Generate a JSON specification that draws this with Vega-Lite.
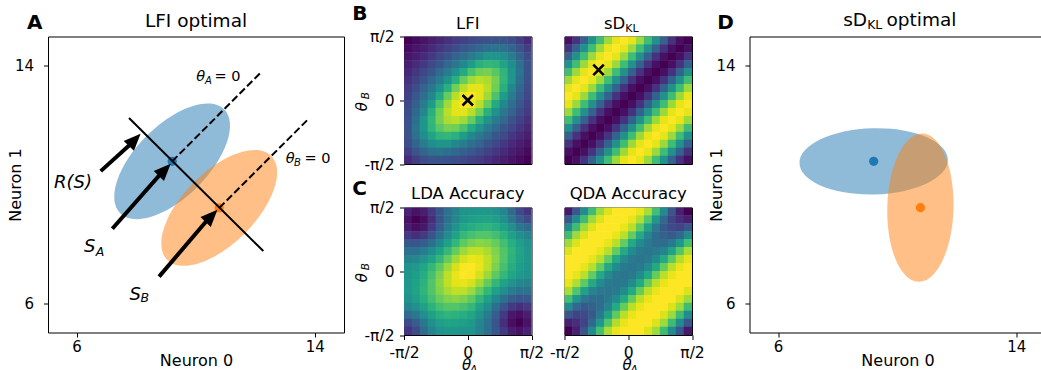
{
"$schema":"https://vega.github.io/schema/vega-lite/v6.json",
"background":"white",
"padding":{"left":6,"top":2.5,"right":0,"bottom":0},
"config":{
 "font":"DejaVu Sans",
 "view":{"stroke":"black","strokeWidth":1},
 "axis":{"domain":false,"grid":false,"tickColor":"black","tickWidth":1,"tickSize":4.5,"labelColor":"black","titleColor":"black","labelFont":"DejaVu Sans","titleFont":"DejaVu Sans","labelFontSize":15,"titleFontSize":16,"titleFontWeight":"normal","labelFlush":false,"labelOverlap":false,"labelBound":false},
 "text":{"font":"DejaVu Sans","color":"black"}
},
"datasets":{
"lfi":[
{"i":0,"j":15,"v":0.045},{"i":1,"j":15,"v":0.07},{"i":2,"j":15,"v":0.093},{"i":3,"j":15,"v":0.119},{"i":4,"j":15,"v":0.147},{"i":5,"j":15,"v":0.175},{"i":6,"j":15,"v":0.205},{"i":7,"j":15,"v":0.225},{"i":8,"j":15,"v":0.252},{"i":9,"j":15,"v":0.264},{"i":10,"j":15,"v":0.276},{"i":11,"j":15,"v":0.286},{"i":12,"j":15,"v":0.284},{"i":13,"j":15,"v":0.261},{"i":14,"j":15,"v":0.215},{"i":15,"j":15,"v":0.16},
{"i":0,"j":14,"v":0.07},{"i":1,"j":14,"v":0.095},{"i":2,"j":14,"v":0.124},{"i":3,"j":14,"v":0.157},{"i":4,"j":14,"v":0.191},{"i":5,"j":14,"v":0.23},{"i":6,"j":14,"v":0.263},{"i":7,"j":14,"v":0.303},{"i":8,"j":14,"v":0.33},{"i":9,"j":14,"v":0.36},{"i":10,"j":14,"v":0.39},{"i":11,"j":14,"v":0.411},{"i":12,"j":14,"v":0.396},{"i":13,"j":14,"v":0.351},{"i":14,"j":14,"v":0.29},{"i":15,"j":14,"v":0.215},
{"i":0,"j":13,"v":0.093},{"i":1,"j":13,"v":0.124},{"i":2,"j":13,"v":0.16},{"i":3,"j":13,"v":0.199},{"i":4,"j":13,"v":0.245},{"i":5,"j":13,"v":0.287},{"i":6,"j":13,"v":0.34},{"i":7,"j":13,"v":0.385},{"i":8,"j":13,"v":0.435},{"i":9,"j":13,"v":0.488},{"i":10,"j":13,"v":0.537},{"i":11,"j":13,"v":0.54},{"i":12,"j":13,"v":0.507},{"i":13,"j":13,"v":0.44},{"i":14,"j":13,"v":0.351},{"i":15,"j":13,"v":0.261},
{"i":0,"j":12,"v":0.119},{"i":1,"j":12,"v":0.157},{"i":2,"j":12,"v":0.199},{"i":3,"j":12,"v":0.25},{"i":4,"j":12,"v":0.299},{"i":5,"j":12,"v":0.363},{"i":6,"j":12,"v":0.42},{"i":7,"j":12,"v":0.488},{"i":8,"j":12,"v":0.569},{"i":9,"j":12,"v":0.648},{"i":10,"j":12,"v":0.675},{"i":11,"j":12,"v":0.663},{"i":12,"j":12,"v":0.6},{"i":13,"j":12,"v":0.507},{"i":14,"j":12,"v":0.396},{"i":15,"j":12,"v":0.284},
{"i":0,"j":11,"v":0.147},{"i":1,"j":11,"v":0.191},{"i":2,"j":11,"v":0.245},{"i":3,"j":11,"v":0.299},{"i":4,"j":11,"v":0.37},{"i":5,"j":11,"v":0.438},{"i":6,"j":11,"v":0.519},{"i":7,"j":11,"v":0.621},{"i":8,"j":11,"v":0.727},{"i":9,"j":11,"v":0.788},{"i":10,"j":11,"v":0.8},{"i":11,"j":11,"v":0.75},{"i":12,"j":11,"v":0.663},{"i":13,"j":11,"v":0.54},{"i":14,"j":11,"v":0.411},{"i":15,"j":11,"v":0.286},
{"i":0,"j":10,"v":0.175},{"i":1,"j":10,"v":0.23},{"i":2,"j":10,"v":0.287},{"i":3,"j":10,"v":0.363},{"i":4,"j":10,"v":0.438},{"i":5,"j":10,"v":0.53},{"i":6,"j":10,"v":0.647},{"i":7,"j":10,"v":0.774},{"i":8,"j":10,"v":0.86},{"i":9,"j":10,"v":0.897},{"i":10,"j":10,"v":0.875},{"i":11,"j":10,"v":0.8},{"i":12,"j":10,"v":0.675},{"i":13,"j":10,"v":0.537},{"i":14,"j":10,"v":0.39},{"i":15,"j":10,"v":0.276},
{"i":0,"j":9,"v":0.205},{"i":1,"j":9,"v":0.263},{"i":2,"j":9,"v":0.34},{"i":3,"j":9,"v":0.42},{"i":4,"j":9,"v":0.519},{"i":5,"j":9,"v":0.647},{"i":6,"j":9,"v":0.79},{"i":7,"j":9,"v":0.896},{"i":8,"j":9,"v":0.956},{"i":9,"j":9,"v":0.955},{"i":10,"j":9,"v":0.897},{"i":11,"j":9,"v":0.788},{"i":12,"j":9,"v":0.648},{"i":13,"j":9,"v":0.488},{"i":14,"j":9,"v":0.36},{"i":15,"j":9,"v":0.264},
{"i":0,"j":8,"v":0.225},{"i":1,"j":8,"v":0.303},{"i":2,"j":8,"v":0.385},{"i":3,"j":8,"v":0.488},{"i":4,"j":8,"v":0.621},{"i":5,"j":8,"v":0.774},{"i":6,"j":8,"v":0.896},{"i":7,"j":8,"v":0.975},{"i":8,"j":8,"v":0.995},{"i":9,"j":8,"v":0.956},{"i":10,"j":8,"v":0.86},{"i":11,"j":8,"v":0.727},{"i":12,"j":8,"v":0.569},{"i":13,"j":8,"v":0.435},{"i":14,"j":8,"v":0.33},{"i":15,"j":8,"v":0.252},
{"i":0,"j":7,"v":0.252},{"i":1,"j":7,"v":0.33},{"i":2,"j":7,"v":0.435},{"i":3,"j":7,"v":0.569},{"i":4,"j":7,"v":0.727},{"i":5,"j":7,"v":0.86},{"i":6,"j":7,"v":0.956},{"i":7,"j":7,"v":0.995},{"i":8,"j":7,"v":0.975},{"i":9,"j":7,"v":0.896},{"i":10,"j":7,"v":0.774},{"i":11,"j":7,"v":0.621},{"i":12,"j":7,"v":0.488},{"i":13,"j":7,"v":0.385},{"i":14,"j":7,"v":0.303},{"i":15,"j":7,"v":0.225},
{"i":0,"j":6,"v":0.264},{"i":1,"j":6,"v":0.36},{"i":2,"j":6,"v":0.488},{"i":3,"j":6,"v":0.648},{"i":4,"j":6,"v":0.788},{"i":5,"j":6,"v":0.897},{"i":6,"j":6,"v":0.955},{"i":7,"j":6,"v":0.956},{"i":8,"j":6,"v":0.896},{"i":9,"j":6,"v":0.79},{"i":10,"j":6,"v":0.647},{"i":11,"j":6,"v":0.519},{"i":12,"j":6,"v":0.42},{"i":13,"j":6,"v":0.34},{"i":14,"j":6,"v":0.263},{"i":15,"j":6,"v":0.205},
{"i":0,"j":5,"v":0.276},{"i":1,"j":5,"v":0.39},{"i":2,"j":5,"v":0.537},{"i":3,"j":5,"v":0.675},{"i":4,"j":5,"v":0.8},{"i":5,"j":5,"v":0.875},{"i":6,"j":5,"v":0.897},{"i":7,"j":5,"v":0.86},{"i":8,"j":5,"v":0.774},{"i":9,"j":5,"v":0.647},{"i":10,"j":5,"v":0.53},{"i":11,"j":5,"v":0.438},{"i":12,"j":5,"v":0.363},{"i":13,"j":5,"v":0.287},{"i":14,"j":5,"v":0.23},{"i":15,"j":5,"v":0.175},
{"i":0,"j":4,"v":0.286},{"i":1,"j":4,"v":0.411},{"i":2,"j":4,"v":0.54},{"i":3,"j":4,"v":0.663},{"i":4,"j":4,"v":0.75},{"i":5,"j":4,"v":0.8},{"i":6,"j":4,"v":0.788},{"i":7,"j":4,"v":0.727},{"i":8,"j":4,"v":0.621},{"i":9,"j":4,"v":0.519},{"i":10,"j":4,"v":0.438},{"i":11,"j":4,"v":0.37},{"i":12,"j":4,"v":0.299},{"i":13,"j":4,"v":0.245},{"i":14,"j":4,"v":0.191},{"i":15,"j":4,"v":0.147},
{"i":0,"j":3,"v":0.284},{"i":1,"j":3,"v":0.396},{"i":2,"j":3,"v":0.507},{"i":3,"j":3,"v":0.6},{"i":4,"j":3,"v":0.663},{"i":5,"j":3,"v":0.675},{"i":6,"j":3,"v":0.648},{"i":7,"j":3,"v":0.569},{"i":8,"j":3,"v":0.488},{"i":9,"j":3,"v":0.42},{"i":10,"j":3,"v":0.363},{"i":11,"j":3,"v":0.299},{"i":12,"j":3,"v":0.25},{"i":13,"j":3,"v":0.199},{"i":14,"j":3,"v":0.157},{"i":15,"j":3,"v":0.119},
{"i":0,"j":2,"v":0.261},{"i":1,"j":2,"v":0.351},{"i":2,"j":2,"v":0.44},{"i":3,"j":2,"v":0.507},{"i":4,"j":2,"v":0.54},{"i":5,"j":2,"v":0.537},{"i":6,"j":2,"v":0.488},{"i":7,"j":2,"v":0.435},{"i":8,"j":2,"v":0.385},{"i":9,"j":2,"v":0.34},{"i":10,"j":2,"v":0.287},{"i":11,"j":2,"v":0.245},{"i":12,"j":2,"v":0.199},{"i":13,"j":2,"v":0.16},{"i":14,"j":2,"v":0.124},{"i":15,"j":2,"v":0.093},
{"i":0,"j":1,"v":0.215},{"i":1,"j":1,"v":0.29},{"i":2,"j":1,"v":0.351},{"i":3,"j":1,"v":0.396},{"i":4,"j":1,"v":0.411},{"i":5,"j":1,"v":0.39},{"i":6,"j":1,"v":0.36},{"i":7,"j":1,"v":0.33},{"i":8,"j":1,"v":0.303},{"i":9,"j":1,"v":0.263},{"i":10,"j":1,"v":0.23},{"i":11,"j":1,"v":0.191},{"i":12,"j":1,"v":0.157},{"i":13,"j":1,"v":0.124},{"i":14,"j":1,"v":0.095},{"i":15,"j":1,"v":0.07},
{"i":0,"j":0,"v":0.16},{"i":1,"j":0,"v":0.215},{"i":2,"j":0,"v":0.261},{"i":3,"j":0,"v":0.284},{"i":4,"j":0,"v":0.286},{"i":5,"j":0,"v":0.276},{"i":6,"j":0,"v":0.264},{"i":7,"j":0,"v":0.252},{"i":8,"j":0,"v":0.225},{"i":9,"j":0,"v":0.205},{"i":10,"j":0,"v":0.175},{"i":11,"j":0,"v":0.147},{"i":12,"j":0,"v":0.119},{"i":13,"j":0,"v":0.093},{"i":14,"j":0,"v":0.07},{"i":15,"j":0,"v":0.045}
],
"skl":[
{"i":0,"j":15,"v":0.038},{"i":1,"j":15,"v":0.146},{"i":2,"j":15,"v":0.309},{"i":3,"j":15,"v":0.5},{"i":4,"j":15,"v":0.691},{"i":5,"j":15,"v":0.854},{"i":6,"j":15,"v":0.962},{"i":7,"j":15,"v":1},{"i":8,"j":15,"v":0.962},{"i":9,"j":15,"v":0.854},{"i":10,"j":15,"v":0.691},{"i":11,"j":15,"v":0.5},{"i":12,"j":15,"v":0.309},{"i":13,"j":15,"v":0.146},{"i":14,"j":15,"v":0.038},{"i":15,"j":15,"v":0},
{"i":0,"j":14,"v":0.146},{"i":1,"j":14,"v":0.309},{"i":2,"j":14,"v":0.5},{"i":3,"j":14,"v":0.691},{"i":4,"j":14,"v":0.854},{"i":5,"j":14,"v":0.962},{"i":6,"j":14,"v":1},{"i":7,"j":14,"v":0.962},{"i":8,"j":14,"v":0.854},{"i":9,"j":14,"v":0.691},{"i":10,"j":14,"v":0.5},{"i":11,"j":14,"v":0.309},{"i":12,"j":14,"v":0.146},{"i":13,"j":14,"v":0.038},{"i":14,"j":14,"v":0},{"i":15,"j":14,"v":0.038},
{"i":0,"j":13,"v":0.309},{"i":1,"j":13,"v":0.5},{"i":2,"j":13,"v":0.691},{"i":3,"j":13,"v":0.854},{"i":4,"j":13,"v":0.962},{"i":5,"j":13,"v":1},{"i":6,"j":13,"v":0.962},{"i":7,"j":13,"v":0.854},{"i":8,"j":13,"v":0.691},{"i":9,"j":13,"v":0.5},{"i":10,"j":13,"v":0.309},{"i":11,"j":13,"v":0.146},{"i":12,"j":13,"v":0.038},{"i":13,"j":13,"v":0},{"i":14,"j":13,"v":0.038},{"i":15,"j":13,"v":0.146},
{"i":0,"j":12,"v":0.5},{"i":1,"j":12,"v":0.691},{"i":2,"j":12,"v":0.854},{"i":3,"j":12,"v":0.962},{"i":4,"j":12,"v":1},{"i":5,"j":12,"v":0.962},{"i":6,"j":12,"v":0.854},{"i":7,"j":12,"v":0.691},{"i":8,"j":12,"v":0.5},{"i":9,"j":12,"v":0.309},{"i":10,"j":12,"v":0.146},{"i":11,"j":12,"v":0.038},{"i":12,"j":12,"v":0},{"i":13,"j":12,"v":0.038},{"i":14,"j":12,"v":0.146},{"i":15,"j":12,"v":0.309},
{"i":0,"j":11,"v":0.691},{"i":1,"j":11,"v":0.854},{"i":2,"j":11,"v":0.962},{"i":3,"j":11,"v":1},{"i":4,"j":11,"v":0.962},{"i":5,"j":11,"v":0.854},{"i":6,"j":11,"v":0.691},{"i":7,"j":11,"v":0.5},{"i":8,"j":11,"v":0.309},{"i":9,"j":11,"v":0.146},{"i":10,"j":11,"v":0.038},{"i":11,"j":11,"v":0},{"i":12,"j":11,"v":0.038},{"i":13,"j":11,"v":0.146},{"i":14,"j":11,"v":0.309},{"i":15,"j":11,"v":0.5},
{"i":0,"j":10,"v":0.854},{"i":1,"j":10,"v":0.962},{"i":2,"j":10,"v":1},{"i":3,"j":10,"v":0.962},{"i":4,"j":10,"v":0.854},{"i":5,"j":10,"v":0.691},{"i":6,"j":10,"v":0.5},{"i":7,"j":10,"v":0.309},{"i":8,"j":10,"v":0.146},{"i":9,"j":10,"v":0.038},{"i":10,"j":10,"v":0},{"i":11,"j":10,"v":0.038},{"i":12,"j":10,"v":0.146},{"i":13,"j":10,"v":0.309},{"i":14,"j":10,"v":0.5},{"i":15,"j":10,"v":0.691},
{"i":0,"j":9,"v":0.962},{"i":1,"j":9,"v":1},{"i":2,"j":9,"v":0.962},{"i":3,"j":9,"v":0.854},{"i":4,"j":9,"v":0.691},{"i":5,"j":9,"v":0.5},{"i":6,"j":9,"v":0.309},{"i":7,"j":9,"v":0.146},{"i":8,"j":9,"v":0.038},{"i":9,"j":9,"v":0},{"i":10,"j":9,"v":0.038},{"i":11,"j":9,"v":0.146},{"i":12,"j":9,"v":0.309},{"i":13,"j":9,"v":0.5},{"i":14,"j":9,"v":0.691},{"i":15,"j":9,"v":0.854},
{"i":0,"j":8,"v":1},{"i":1,"j":8,"v":0.962},{"i":2,"j":8,"v":0.854},{"i":3,"j":8,"v":0.691},{"i":4,"j":8,"v":0.5},{"i":5,"j":8,"v":0.309},{"i":6,"j":8,"v":0.146},{"i":7,"j":8,"v":0.038},{"i":8,"j":8,"v":0},{"i":9,"j":8,"v":0.038},{"i":10,"j":8,"v":0.146},{"i":11,"j":8,"v":0.309},{"i":12,"j":8,"v":0.5},{"i":13,"j":8,"v":0.691},{"i":14,"j":8,"v":0.854},{"i":15,"j":8,"v":0.962},
{"i":0,"j":7,"v":0.962},{"i":1,"j":7,"v":0.854},{"i":2,"j":7,"v":0.691},{"i":3,"j":7,"v":0.5},{"i":4,"j":7,"v":0.309},{"i":5,"j":7,"v":0.146},{"i":6,"j":7,"v":0.038},{"i":7,"j":7,"v":0},{"i":8,"j":7,"v":0.038},{"i":9,"j":7,"v":0.146},{"i":10,"j":7,"v":0.309},{"i":11,"j":7,"v":0.5},{"i":12,"j":7,"v":0.691},{"i":13,"j":7,"v":0.854},{"i":14,"j":7,"v":0.962},{"i":15,"j":7,"v":1},
{"i":0,"j":6,"v":0.854},{"i":1,"j":6,"v":0.691},{"i":2,"j":6,"v":0.5},{"i":3,"j":6,"v":0.309},{"i":4,"j":6,"v":0.146},{"i":5,"j":6,"v":0.038},{"i":6,"j":6,"v":0},{"i":7,"j":6,"v":0.038},{"i":8,"j":6,"v":0.146},{"i":9,"j":6,"v":0.309},{"i":10,"j":6,"v":0.5},{"i":11,"j":6,"v":0.691},{"i":12,"j":6,"v":0.854},{"i":13,"j":6,"v":0.962},{"i":14,"j":6,"v":1},{"i":15,"j":6,"v":0.962},
{"i":0,"j":5,"v":0.691},{"i":1,"j":5,"v":0.5},{"i":2,"j":5,"v":0.309},{"i":3,"j":5,"v":0.146},{"i":4,"j":5,"v":0.038},{"i":5,"j":5,"v":0},{"i":6,"j":5,"v":0.038},{"i":7,"j":5,"v":0.146},{"i":8,"j":5,"v":0.309},{"i":9,"j":5,"v":0.5},{"i":10,"j":5,"v":0.691},{"i":11,"j":5,"v":0.854},{"i":12,"j":5,"v":0.962},{"i":13,"j":5,"v":1},{"i":14,"j":5,"v":0.962},{"i":15,"j":5,"v":0.854},
{"i":0,"j":4,"v":0.5},{"i":1,"j":4,"v":0.309},{"i":2,"j":4,"v":0.146},{"i":3,"j":4,"v":0.038},{"i":4,"j":4,"v":0},{"i":5,"j":4,"v":0.038},{"i":6,"j":4,"v":0.146},{"i":7,"j":4,"v":0.309},{"i":8,"j":4,"v":0.5},{"i":9,"j":4,"v":0.691},{"i":10,"j":4,"v":0.854},{"i":11,"j":4,"v":0.962},{"i":12,"j":4,"v":1},{"i":13,"j":4,"v":0.962},{"i":14,"j":4,"v":0.854},{"i":15,"j":4,"v":0.691},
{"i":0,"j":3,"v":0.309},{"i":1,"j":3,"v":0.146},{"i":2,"j":3,"v":0.038},{"i":3,"j":3,"v":0},{"i":4,"j":3,"v":0.038},{"i":5,"j":3,"v":0.146},{"i":6,"j":3,"v":0.309},{"i":7,"j":3,"v":0.5},{"i":8,"j":3,"v":0.691},{"i":9,"j":3,"v":0.854},{"i":10,"j":3,"v":0.962},{"i":11,"j":3,"v":1},{"i":12,"j":3,"v":0.962},{"i":13,"j":3,"v":0.854},{"i":14,"j":3,"v":0.691},{"i":15,"j":3,"v":0.5},
{"i":0,"j":2,"v":0.146},{"i":1,"j":2,"v":0.038},{"i":2,"j":2,"v":0},{"i":3,"j":2,"v":0.038},{"i":4,"j":2,"v":0.146},{"i":5,"j":2,"v":0.309},{"i":6,"j":2,"v":0.5},{"i":7,"j":2,"v":0.691},{"i":8,"j":2,"v":0.854},{"i":9,"j":2,"v":0.962},{"i":10,"j":2,"v":1},{"i":11,"j":2,"v":0.962},{"i":12,"j":2,"v":0.854},{"i":13,"j":2,"v":0.691},{"i":14,"j":2,"v":0.5},{"i":15,"j":2,"v":0.309},
{"i":0,"j":1,"v":0.038},{"i":1,"j":1,"v":0},{"i":2,"j":1,"v":0.038},{"i":3,"j":1,"v":0.146},{"i":4,"j":1,"v":0.309},{"i":5,"j":1,"v":0.5},{"i":6,"j":1,"v":0.691},{"i":7,"j":1,"v":0.854},{"i":8,"j":1,"v":0.962},{"i":9,"j":1,"v":1},{"i":10,"j":1,"v":0.962},{"i":11,"j":1,"v":0.854},{"i":12,"j":1,"v":0.691},{"i":13,"j":1,"v":0.5},{"i":14,"j":1,"v":0.309},{"i":15,"j":1,"v":0.146},
{"i":0,"j":0,"v":0},{"i":1,"j":0,"v":0.038},{"i":2,"j":0,"v":0.146},{"i":3,"j":0,"v":0.309},{"i":4,"j":0,"v":0.5},{"i":5,"j":0,"v":0.691},{"i":6,"j":0,"v":0.854},{"i":7,"j":0,"v":0.962},{"i":8,"j":0,"v":1},{"i":9,"j":0,"v":0.962},{"i":10,"j":0,"v":0.854},{"i":11,"j":0,"v":0.691},{"i":12,"j":0,"v":0.5},{"i":13,"j":0,"v":0.309},{"i":14,"j":0,"v":0.146},{"i":15,"j":0,"v":0.038}
],
"lda":[
{"i":0,"j":15,"v":0.056},{"i":1,"j":15,"v":0.011},{"i":2,"j":15,"v":0.042},{"i":3,"j":15,"v":0.131},{"i":4,"j":15,"v":0.242},{"i":5,"j":15,"v":0.347},{"i":6,"j":15,"v":0.419},{"i":7,"j":15,"v":0.486},{"i":8,"j":15,"v":0.5},{"i":9,"j":15,"v":0.508},{"i":10,"j":15,"v":0.511},{"i":11,"j":15,"v":0.484},{"i":12,"j":15,"v":0.425},{"i":13,"j":15,"v":0.318},{"i":14,"j":15,"v":0.19},{"i":15,"j":15,"v":0.117},
{"i":0,"j":14,"v":0.011},{"i":1,"j":14,"v":-0.039},{"i":2,"j":14,"v":-0.004},{"i":3,"j":14,"v":0.096},{"i":4,"j":14,"v":0.229},{"i":5,"j":14,"v":0.349},{"i":6,"j":14,"v":0.438},{"i":7,"j":14,"v":0.522},{"i":8,"j":14,"v":0.541},{"i":9,"j":14,"v":0.557},{"i":10,"j":14,"v":0.562},{"i":11,"j":14,"v":0.537},{"i":12,"j":14,"v":0.476},{"i":13,"j":14,"v":0.373},{"i":14,"j":14,"v":0.257},{"i":15,"j":14,"v":0.19},
{"i":0,"j":13,"v":0.042},{"i":1,"j":13,"v":-0.004},{"i":2,"j":13,"v":0.027},{"i":3,"j":13,"v":0.131},{"i":4,"j":13,"v":0.262},{"i":5,"j":13,"v":0.386},{"i":6,"j":13,"v":0.484},{"i":7,"j":13,"v":0.574},{"i":8,"j":13,"v":0.604},{"i":9,"j":13,"v":0.626},{"i":10,"j":13,"v":0.634},{"i":11,"j":13,"v":0.609},{"i":12,"j":13,"v":0.553},{"i":13,"j":13,"v":0.465},{"i":14,"j":13,"v":0.373},{"i":15,"j":13,"v":0.318},
{"i":0,"j":12,"v":0.131},{"i":1,"j":12,"v":0.096},{"i":2,"j":12,"v":0.131},{"i":3,"j":12,"v":0.222},{"i":4,"j":12,"v":0.339},{"i":5,"j":12,"v":0.458},{"i":6,"j":12,"v":0.555},{"i":7,"j":12,"v":0.649},{"i":8,"j":12,"v":0.69},{"i":9,"j":12,"v":0.715},{"i":10,"j":12,"v":0.717},{"i":11,"j":12,"v":0.686},{"i":12,"j":12,"v":0.627},{"i":13,"j":12,"v":0.553},{"i":14,"j":12,"v":0.476},{"i":15,"j":12,"v":0.425},
{"i":0,"j":11,"v":0.242},{"i":1,"j":11,"v":0.229},{"i":2,"j":11,"v":0.262},{"i":3,"j":11,"v":0.339},{"i":4,"j":11,"v":0.444},{"i":5,"j":11,"v":0.55},{"i":6,"j":11,"v":0.647},{"i":7,"j":11,"v":0.741},{"i":8,"j":11,"v":0.792},{"i":9,"j":11,"v":0.813},{"i":10,"j":11,"v":0.797},{"i":11,"j":11,"v":0.753},{"i":12,"j":11,"v":0.686},{"i":13,"j":11,"v":0.609},{"i":14,"j":11,"v":0.537},{"i":15,"j":11,"v":0.484},
{"i":0,"j":10,"v":0.347},{"i":1,"j":10,"v":0.349},{"i":2,"j":10,"v":0.386},{"i":3,"j":10,"v":0.458},{"i":4,"j":10,"v":0.55},{"i":5,"j":10,"v":0.651},{"i":6,"j":10,"v":0.749},{"i":7,"j":10,"v":0.841},{"i":8,"j":10,"v":0.891},{"i":9,"j":10,"v":0.898},{"i":10,"j":10,"v":0.863},{"i":11,"j":10,"v":0.797},{"i":12,"j":10,"v":0.717},{"i":13,"j":10,"v":0.634},{"i":14,"j":10,"v":0.562},{"i":15,"j":10,"v":0.511},
{"i":0,"j":9,"v":0.419},{"i":1,"j":9,"v":0.438},{"i":2,"j":9,"v":0.484},{"i":3,"j":9,"v":0.555},{"i":4,"j":9,"v":0.647},{"i":5,"j":9,"v":0.749},{"i":6,"j":9,"v":0.849},{"i":7,"j":9,"v":0.93},{"i":8,"j":9,"v":0.962},{"i":9,"j":9,"v":0.951},{"i":10,"j":9,"v":0.898},{"i":11,"j":9,"v":0.813},{"i":12,"j":9,"v":0.715},{"i":13,"j":9,"v":0.626},{"i":14,"j":9,"v":0.557},{"i":15,"j":9,"v":0.508},
{"i":0,"j":8,"v":0.486},{"i":1,"j":8,"v":0.522},{"i":2,"j":8,"v":0.574},{"i":3,"j":8,"v":0.649},{"i":4,"j":8,"v":0.741},{"i":5,"j":8,"v":0.841},{"i":6,"j":8,"v":0.93},{"i":7,"j":8,"v":0.984},{"i":8,"j":8,"v":0.995},{"i":9,"j":8,"v":0.962},{"i":10,"j":8,"v":0.891},{"i":11,"j":8,"v":0.792},{"i":12,"j":8,"v":0.69},{"i":13,"j":8,"v":0.604},{"i":14,"j":8,"v":0.541},{"i":15,"j":8,"v":0.5},
{"i":0,"j":7,"v":0.5},{"i":1,"j":7,"v":0.541},{"i":2,"j":7,"v":0.604},{"i":3,"j":7,"v":0.69},{"i":4,"j":7,"v":0.792},{"i":5,"j":7,"v":0.891},{"i":6,"j":7,"v":0.962},{"i":7,"j":7,"v":0.995},{"i":8,"j":7,"v":0.984},{"i":9,"j":7,"v":0.93},{"i":10,"j":7,"v":0.841},{"i":11,"j":7,"v":0.741},{"i":12,"j":7,"v":0.649},{"i":13,"j":7,"v":0.574},{"i":14,"j":7,"v":0.522},{"i":15,"j":7,"v":0.486},
{"i":0,"j":6,"v":0.508},{"i":1,"j":6,"v":0.557},{"i":2,"j":6,"v":0.626},{"i":3,"j":6,"v":0.715},{"i":4,"j":6,"v":0.813},{"i":5,"j":6,"v":0.898},{"i":6,"j":6,"v":0.951},{"i":7,"j":6,"v":0.962},{"i":8,"j":6,"v":0.93},{"i":9,"j":6,"v":0.849},{"i":10,"j":6,"v":0.749},{"i":11,"j":6,"v":0.647},{"i":12,"j":6,"v":0.555},{"i":13,"j":6,"v":0.484},{"i":14,"j":6,"v":0.438},{"i":15,"j":6,"v":0.419},
{"i":0,"j":5,"v":0.511},{"i":1,"j":5,"v":0.562},{"i":2,"j":5,"v":0.634},{"i":3,"j":5,"v":0.717},{"i":4,"j":5,"v":0.797},{"i":5,"j":5,"v":0.863},{"i":6,"j":5,"v":0.898},{"i":7,"j":5,"v":0.891},{"i":8,"j":5,"v":0.841},{"i":9,"j":5,"v":0.749},{"i":10,"j":5,"v":0.651},{"i":11,"j":5,"v":0.55},{"i":12,"j":5,"v":0.458},{"i":13,"j":5,"v":0.386},{"i":14,"j":5,"v":0.349},{"i":15,"j":5,"v":0.347},
{"i":0,"j":4,"v":0.484},{"i":1,"j":4,"v":0.537},{"i":2,"j":4,"v":0.609},{"i":3,"j":4,"v":0.686},{"i":4,"j":4,"v":0.753},{"i":5,"j":4,"v":0.797},{"i":6,"j":4,"v":0.813},{"i":7,"j":4,"v":0.792},{"i":8,"j":4,"v":0.741},{"i":9,"j":4,"v":0.647},{"i":10,"j":4,"v":0.55},{"i":11,"j":4,"v":0.444},{"i":12,"j":4,"v":0.339},{"i":13,"j":4,"v":0.262},{"i":14,"j":4,"v":0.229},{"i":15,"j":4,"v":0.242},
{"i":0,"j":3,"v":0.425},{"i":1,"j":3,"v":0.476},{"i":2,"j":3,"v":0.553},{"i":3,"j":3,"v":0.627},{"i":4,"j":3,"v":0.686},{"i":5,"j":3,"v":0.717},{"i":6,"j":3,"v":0.715},{"i":7,"j":3,"v":0.69},{"i":8,"j":3,"v":0.649},{"i":9,"j":3,"v":0.555},{"i":10,"j":3,"v":0.458},{"i":11,"j":3,"v":0.339},{"i":12,"j":3,"v":0.222},{"i":13,"j":3,"v":0.131},{"i":14,"j":3,"v":0.096},{"i":15,"j":3,"v":0.131},
{"i":0,"j":2,"v":0.318},{"i":1,"j":2,"v":0.373},{"i":2,"j":2,"v":0.465},{"i":3,"j":2,"v":0.553},{"i":4,"j":2,"v":0.609},{"i":5,"j":2,"v":0.634},{"i":6,"j":2,"v":0.626},{"i":7,"j":2,"v":0.604},{"i":8,"j":2,"v":0.574},{"i":9,"j":2,"v":0.484},{"i":10,"j":2,"v":0.386},{"i":11,"j":2,"v":0.262},{"i":12,"j":2,"v":0.131},{"i":13,"j":2,"v":0.027},{"i":14,"j":2,"v":-0.004},{"i":15,"j":2,"v":0.042},
{"i":0,"j":1,"v":0.19},{"i":1,"j":1,"v":0.257},{"i":2,"j":1,"v":0.373},{"i":3,"j":1,"v":0.476},{"i":4,"j":1,"v":0.537},{"i":5,"j":1,"v":0.562},{"i":6,"j":1,"v":0.557},{"i":7,"j":1,"v":0.541},{"i":8,"j":1,"v":0.522},{"i":9,"j":1,"v":0.438},{"i":10,"j":1,"v":0.349},{"i":11,"j":1,"v":0.229},{"i":12,"j":1,"v":0.096},{"i":13,"j":1,"v":-0.004},{"i":14,"j":1,"v":-0.039},{"i":15,"j":1,"v":0.011},
{"i":0,"j":0,"v":0.117},{"i":1,"j":0,"v":0.19},{"i":2,"j":0,"v":0.318},{"i":3,"j":0,"v":0.425},{"i":4,"j":0,"v":0.484},{"i":5,"j":0,"v":0.511},{"i":6,"j":0,"v":0.508},{"i":7,"j":0,"v":0.5},{"i":8,"j":0,"v":0.486},{"i":9,"j":0,"v":0.419},{"i":10,"j":0,"v":0.347},{"i":11,"j":0,"v":0.242},{"i":12,"j":0,"v":0.131},{"i":13,"j":0,"v":0.042},{"i":14,"j":0,"v":0.011},{"i":15,"j":0,"v":0.056}
],
"qda":[
{"i":0,"j":15,"v":0.1},{"i":1,"j":15,"v":0.3},{"i":2,"j":15,"v":0.5},{"i":3,"j":15,"v":0.7},{"i":4,"j":15,"v":0.86},{"i":5,"j":15,"v":0.95},{"i":6,"j":15,"v":1},{"i":7,"j":15,"v":1},{"i":8,"j":15,"v":1},{"i":9,"j":15,"v":0.97},{"i":10,"j":15,"v":0.88},{"i":11,"j":15,"v":0.71},{"i":12,"j":15,"v":0.5},{"i":13,"j":15,"v":0.29},{"i":14,"j":15,"v":0.12},{"i":15,"j":15,"v":0.04},
{"i":0,"j":14,"v":0.3},{"i":1,"j":14,"v":0.5},{"i":2,"j":14,"v":0.7},{"i":3,"j":14,"v":0.86},{"i":4,"j":14,"v":0.95},{"i":5,"j":14,"v":1},{"i":6,"j":14,"v":1},{"i":7,"j":14,"v":1},{"i":8,"j":14,"v":0.97},{"i":9,"j":14,"v":0.89},{"i":10,"j":14,"v":0.74},{"i":11,"j":14,"v":0.55},{"i":12,"j":14,"v":0.36},{"i":13,"j":14,"v":0.23},{"i":14,"j":14,"v":0.16},{"i":15,"j":14,"v":0.12},
{"i":0,"j":13,"v":0.5},{"i":1,"j":13,"v":0.7},{"i":2,"j":13,"v":0.86},{"i":3,"j":13,"v":0.95},{"i":4,"j":13,"v":1},{"i":5,"j":13,"v":1},{"i":6,"j":13,"v":1},{"i":7,"j":13,"v":0.97},{"i":8,"j":13,"v":0.9},{"i":9,"j":13,"v":0.76},{"i":10,"j":13,"v":0.59},{"i":11,"j":13,"v":0.43},{"i":12,"j":13,"v":0.31},{"i":13,"j":13,"v":0.25},{"i":14,"j":13,"v":0.23},{"i":15,"j":13,"v":0.29},
{"i":0,"j":12,"v":0.7},{"i":1,"j":12,"v":0.86},{"i":2,"j":12,"v":0.95},{"i":3,"j":12,"v":1},{"i":4,"j":12,"v":1},{"i":5,"j":12,"v":1},{"i":6,"j":12,"v":0.97},{"i":7,"j":12,"v":0.9},{"i":8,"j":12,"v":0.77},{"i":9,"j":12,"v":0.62},{"i":10,"j":12,"v":0.47},{"i":11,"j":12,"v":0.38},{"i":12,"j":12,"v":0.33},{"i":13,"j":12,"v":0.31},{"i":14,"j":12,"v":0.36},{"i":15,"j":12,"v":0.5},
{"i":0,"j":11,"v":0.86},{"i":1,"j":11,"v":0.95},{"i":2,"j":11,"v":1},{"i":3,"j":11,"v":1},{"i":4,"j":11,"v":1},{"i":5,"j":11,"v":0.97},{"i":6,"j":11,"v":0.9},{"i":7,"j":11,"v":0.77},{"i":8,"j":11,"v":0.62},{"i":9,"j":11,"v":0.5},{"i":10,"j":11,"v":0.43},{"i":11,"j":11,"v":0.38},{"i":12,"j":11,"v":0.38},{"i":13,"j":11,"v":0.43},{"i":14,"j":11,"v":0.55},{"i":15,"j":11,"v":0.71},
{"i":0,"j":10,"v":0.95},{"i":1,"j":10,"v":1},{"i":2,"j":10,"v":1},{"i":3,"j":10,"v":1},{"i":4,"j":10,"v":0.97},{"i":5,"j":10,"v":0.9},{"i":6,"j":10,"v":0.77},{"i":7,"j":10,"v":0.62},{"i":8,"j":10,"v":0.5},{"i":9,"j":10,"v":0.43},{"i":10,"j":10,"v":0.41},{"i":11,"j":10,"v":0.43},{"i":12,"j":10,"v":0.47},{"i":13,"j":10,"v":0.59},{"i":14,"j":10,"v":0.74},{"i":15,"j":10,"v":0.88},
{"i":0,"j":9,"v":1},{"i":1,"j":9,"v":1},{"i":2,"j":9,"v":1},{"i":3,"j":9,"v":0.97},{"i":4,"j":9,"v":0.9},{"i":5,"j":9,"v":0.77},{"i":6,"j":9,"v":0.62},{"i":7,"j":9,"v":0.5},{"i":8,"j":9,"v":0.43},{"i":9,"j":9,"v":0.41},{"i":10,"j":9,"v":0.43},{"i":11,"j":9,"v":0.5},{"i":12,"j":9,"v":0.62},{"i":13,"j":9,"v":0.76},{"i":14,"j":9,"v":0.89},{"i":15,"j":9,"v":0.97},
{"i":0,"j":8,"v":1},{"i":1,"j":8,"v":1},{"i":2,"j":8,"v":0.97},{"i":3,"j":8,"v":0.9},{"i":4,"j":8,"v":0.77},{"i":5,"j":8,"v":0.62},{"i":6,"j":8,"v":0.5},{"i":7,"j":8,"v":0.43},{"i":8,"j":8,"v":0.41},{"i":9,"j":8,"v":0.43},{"i":10,"j":8,"v":0.5},{"i":11,"j":8,"v":0.62},{"i":12,"j":8,"v":0.77},{"i":13,"j":8,"v":0.9},{"i":14,"j":8,"v":0.97},{"i":15,"j":8,"v":1},
{"i":0,"j":7,"v":1},{"i":1,"j":7,"v":0.97},{"i":2,"j":7,"v":0.9},{"i":3,"j":7,"v":0.77},{"i":4,"j":7,"v":0.62},{"i":5,"j":7,"v":0.5},{"i":6,"j":7,"v":0.43},{"i":7,"j":7,"v":0.41},{"i":8,"j":7,"v":0.43},{"i":9,"j":7,"v":0.5},{"i":10,"j":7,"v":0.62},{"i":11,"j":7,"v":0.77},{"i":12,"j":7,"v":0.9},{"i":13,"j":7,"v":0.97},{"i":14,"j":7,"v":1},{"i":15,"j":7,"v":1},
{"i":0,"j":6,"v":0.97},{"i":1,"j":6,"v":0.89},{"i":2,"j":6,"v":0.76},{"i":3,"j":6,"v":0.62},{"i":4,"j":6,"v":0.5},{"i":5,"j":6,"v":0.43},{"i":6,"j":6,"v":0.41},{"i":7,"j":6,"v":0.43},{"i":8,"j":6,"v":0.5},{"i":9,"j":6,"v":0.62},{"i":10,"j":6,"v":0.77},{"i":11,"j":6,"v":0.9},{"i":12,"j":6,"v":0.97},{"i":13,"j":6,"v":1},{"i":14,"j":6,"v":1},{"i":15,"j":6,"v":1},
{"i":0,"j":5,"v":0.88},{"i":1,"j":5,"v":0.74},{"i":2,"j":5,"v":0.59},{"i":3,"j":5,"v":0.47},{"i":4,"j":5,"v":0.43},{"i":5,"j":5,"v":0.41},{"i":6,"j":5,"v":0.43},{"i":7,"j":5,"v":0.5},{"i":8,"j":5,"v":0.62},{"i":9,"j":5,"v":0.77},{"i":10,"j":5,"v":0.9},{"i":11,"j":5,"v":0.97},{"i":12,"j":5,"v":1},{"i":13,"j":5,"v":1},{"i":14,"j":5,"v":1},{"i":15,"j":5,"v":0.95},
{"i":0,"j":4,"v":0.71},{"i":1,"j":4,"v":0.55},{"i":2,"j":4,"v":0.43},{"i":3,"j":4,"v":0.38},{"i":4,"j":4,"v":0.38},{"i":5,"j":4,"v":0.43},{"i":6,"j":4,"v":0.5},{"i":7,"j":4,"v":0.62},{"i":8,"j":4,"v":0.77},{"i":9,"j":4,"v":0.9},{"i":10,"j":4,"v":0.97},{"i":11,"j":4,"v":1},{"i":12,"j":4,"v":1},{"i":13,"j":4,"v":1},{"i":14,"j":4,"v":0.95},{"i":15,"j":4,"v":0.86},
{"i":0,"j":3,"v":0.5},{"i":1,"j":3,"v":0.36},{"i":2,"j":3,"v":0.31},{"i":3,"j":3,"v":0.33},{"i":4,"j":3,"v":0.38},{"i":5,"j":3,"v":0.47},{"i":6,"j":3,"v":0.62},{"i":7,"j":3,"v":0.77},{"i":8,"j":3,"v":0.9},{"i":9,"j":3,"v":0.97},{"i":10,"j":3,"v":1},{"i":11,"j":3,"v":1},{"i":12,"j":3,"v":1},{"i":13,"j":3,"v":0.95},{"i":14,"j":3,"v":0.86},{"i":15,"j":3,"v":0.7},
{"i":0,"j":2,"v":0.29},{"i":1,"j":2,"v":0.23},{"i":2,"j":2,"v":0.25},{"i":3,"j":2,"v":0.31},{"i":4,"j":2,"v":0.43},{"i":5,"j":2,"v":0.59},{"i":6,"j":2,"v":0.76},{"i":7,"j":2,"v":0.9},{"i":8,"j":2,"v":0.97},{"i":9,"j":2,"v":1},{"i":10,"j":2,"v":1},{"i":11,"j":2,"v":1},{"i":12,"j":2,"v":0.95},{"i":13,"j":2,"v":0.86},{"i":14,"j":2,"v":0.7},{"i":15,"j":2,"v":0.5},
{"i":0,"j":1,"v":0.12},{"i":1,"j":1,"v":0.16},{"i":2,"j":1,"v":0.23},{"i":3,"j":1,"v":0.36},{"i":4,"j":1,"v":0.55},{"i":5,"j":1,"v":0.74},{"i":6,"j":1,"v":0.89},{"i":7,"j":1,"v":0.97},{"i":8,"j":1,"v":1},{"i":9,"j":1,"v":1},{"i":10,"j":1,"v":1},{"i":11,"j":1,"v":0.95},{"i":12,"j":1,"v":0.86},{"i":13,"j":1,"v":0.7},{"i":14,"j":1,"v":0.5},{"i":15,"j":1,"v":0.3},
{"i":0,"j":0,"v":0.04},{"i":1,"j":0,"v":0.12},{"i":2,"j":0,"v":0.29},{"i":3,"j":0,"v":0.5},{"i":4,"j":0,"v":0.71},{"i":5,"j":0,"v":0.88},{"i":6,"j":0,"v":0.97},{"i":7,"j":0,"v":1},{"i":8,"j":0,"v":1},{"i":9,"j":0,"v":1},{"i":10,"j":0,"v":0.95},{"i":11,"j":0,"v":0.86},{"i":12,"j":0,"v":0.7},{"i":13,"j":0,"v":0.5},{"i":14,"j":0,"v":0.3},{"i":15,"j":0,"v":0.1}
]
},
"hconcat":[
{"hconcat":[
{
 "width":296,"height":296,
 "encoding":{
  "x":{"field":"x","type":"quantitative","scale":{"domain":[5.04,14.98],"nice":false,"zero":false},"axis":{"values":[6,14],"title":"Neuron 0","labelPadding":2.5,"titlePadding":-2}},
  "y":{"field":"y","type":"quantitative","scale":{"domain":[5.02,14.98],"nice":false,"zero":false},"axis":{"values":[6,14],"title":"Neuron 1","labelPadding":10,"titlePadding":-9}}
 },
 "layer":[
  {"data":{"values":[{"x":9.21,"y":10.78}]},"mark":{"type":"point","shape":"M 1 0 C 1 0.2706 0.5523 0.49 0 0.49 C -0.5523 0.49 -1 0.2706 -1 0 C -1 -0.2706 -0.5523 -0.49 0 -0.49 C 0.5523 -0.49 1 -0.2706 1 0 Z","size":21609,"angle":-45,"filled":true,"fill":"#1f77b4","fillOpacity":0.5,"opacity":1,"strokeWidth":0}},
  {"data":{"values":[{"x":10.79,"y":9.21}]},"mark":{"type":"point","shape":"M 1 0 C 1 0.2706 0.5523 0.49 0 0.49 C -0.5523 0.49 -1 0.2706 -1 0 C -1 -0.2706 -0.5523 -0.49 0 -0.49 C 0.5523 -0.49 1 -0.2706 1 0 Z","size":21609,"angle":-45,"filled":true,"fill":"#ff7f0e","fillOpacity":0.5,"opacity":1,"strokeWidth":0}},
  {"data":{"values":[{"x":9.21,"y":10.78}]},"mark":{"type":"point","shape":"circle","size":85,"filled":true,"fill":"#1f77b4","opacity":1,"strokeWidth":0}},
  {"data":{"values":[{"x":10.79,"y":9.21}]},"mark":{"type":"point","shape":"circle","size":85,"filled":true,"fill":"#ff7f0e","opacity":1,"strokeWidth":0}},
  {"data":{"values":[{"x":9.21,"y":10.78,"x2":12.2,"y2":13.78},{"x":10.79,"y":9.21,"x2":13.79,"y2":12.21}]},"mark":{"type":"rule","color":"black","strokeWidth":2,"strokeDash":[7.4,3.2]},"encoding":{"x2":{"field":"x2"},"y2":{"field":"y2"}}},
  {"data":{"values":[{"x":7.76,"y":12.24,"x2":12.27,"y2":7.76}]},"mark":{"type":"rule","color":"black","strokeWidth":2},"encoding":{"x2":{"field":"x2"},"y2":{"field":"y2"}}},
  {"data":{"values":[{"x":6.81,"y":10.45,"x2":7.79,"y2":11.34},{"x":7.2,"y":8.51,"x2":8.8,"y2":10.33},{"x":8.77,"y":6.9,"x2":10.37,"y2":8.78}]},"mark":{"type":"rule","color":"black","strokeWidth":4},"encoding":{"x2":{"field":"x2"},"y2":{"field":"y2"}}},
  {"data":{"values":[{"x":8.15,"y":11.71},{"x":9.16,"y":10.7},{"x":10.73,"y":9.15}]},"mark":{"type":"point","shape":"M 0 0 L -1 -0.42 L -1 0.42 Z","size":1156,"angle":-46,"filled":true,"fill":"black","opacity":1,"strokeWidth":0}},
  {"data":{"values":[{"x":10.02,"y":13.48,"t":"θ"},{"x":13.02,"y":10.74,"t":"θ"}]},"mark":{"type":"text","fontSize":14.5,"fontStyle":"italic","align":"left","baseline":"alphabetic"},"encoding":{"text":{"field":"t"}}},
  {"data":{"values":[{"x":10.31,"y":13.365,"t":"A"},{"x":13.3,"y":10.61,"t":"B"}]},"mark":{"type":"text","fontSize":10,"fontStyle":"italic","align":"left","baseline":"alphabetic"},"encoding":{"text":{"field":"t"}}},
  {"data":{"values":[{"x":10.63,"y":13.48,"t":"= 0"},{"x":13.65,"y":10.74,"t":"= 0"}]},"mark":{"type":"text","fontSize":14.5,"align":"left","baseline":"alphabetic"},"encoding":{"text":{"field":"t"}}},
  {"data":{"values":[{"x":5.24,"y":9.87,"t":"R(S)"},{"x":6.25,"y":7.72,"t":"S"},{"x":7.78,"y":6.13,"t":"S"}]},"mark":{"type":"text","fontSize":18,"fontStyle":"italic","align":"left","baseline":"alphabetic"},"encoding":{"text":{"field":"t"}}},
  {"data":{"values":[{"x":6.64,"y":7.61,"t":"A"},{"x":8.15,"y":6.03,"t":"B"}]},"mark":{"type":"text","fontSize":12.5,"fontStyle":"italic","align":"left","baseline":"alphabetic"},"encoding":{"text":{"field":"t"}}},
  {"data":{"values":[{"x":10.01,"y":15.293,"t":"LFI optimal"}]},"mark":{"type":"text","fontSize":18.5,"align":"center","baseline":"alphabetic"},"encoding":{"text":{"field":"t"}}},
  {"data":{"values":[{"x":4.335,"y":15.24,"t":"A"}]},"mark":{"type":"text","fontSize":20,"fontWeight":"bold","align":"left","baseline":"alphabetic"},"encoding":{"text":{"field":"t"}}}
 ]
},
{
 "vconcat":[
  {"hconcat":[
   {
    "width":127.5,"height":127.5,
    "encoding":{
     "x":{"field":"i","type":"quantitative","scale":{"domain":[-0.5,15.5],"nice":false,"zero":false},"axis":null},
     "y":{"field":"j","type":"quantitative","scale":{"domain":[-0.5,15.5],"nice":false,"zero":false},"axis":{"values":[-0.5,7.5,15.5],"labelExpr":"datum.value < 0 ? '-π/2' : (datum.value > 10 ? 'π/2' : '0')","title":null,"labelPadding":5.5,"labelFontSize":15.5}}
    },
    "layer":[
     {"data":{"name":"lfi"},"mark":{"type":"point","shape":"square","filled":true,"size":72,"opacity":1,"strokeWidth":0,"clip":true},"encoding":{"color":{"field":"v","type":"quantitative","scale":{"scheme":"viridis"},"legend":null}}},
     {"data":{"values":[{"i":7.5,"j":7.5}]},"mark":{"type":"point","shape":"M -1 -1 L 1 1 M -1 1 L 1 -1","filled":false,"stroke":"black","strokeWidth":2.6,"size":110,"opacity":1}},
     {"data":{"values":[{"i":7.5,"j":16.47,"t":"LFI"}]},"mark":{"type":"text","fontSize":16.5,"align":"center","baseline":"alphabetic"},"encoding":{"text":{"field":"t"}}},
     {"data":{"values":[{"i":-6.98,"j":17.6,"t":"B"}]},"mark":{"type":"text","fontSize":20,"fontWeight":"bold","align":"left","baseline":"alphabetic"},"encoding":{"text":{"field":"t"}}},
     {"data":{"values":[{"i":-5.74,"j":6.71,"t":"θ"}]},"mark":{"type":"text","fontSize":15,"fontStyle":"italic","angle":270,"align":"center","baseline":"middle"},"encoding":{"text":{"field":"t"}}},
     {"data":{"values":[{"i":-5.24,"j":8.07,"t":"B"}]},"mark":{"type":"text","fontSize":10.5,"fontStyle":"italic","angle":270,"align":"center","baseline":"middle"},"encoding":{"text":{"field":"t"}}}
    ]
   },
   {
    "width":127.5,"height":127.5,
    "encoding":{
     "x":{"field":"i","type":"quantitative","scale":{"domain":[-0.5,15.5],"nice":false,"zero":false},"axis":null},
     "y":{"field":"j","type":"quantitative","scale":{"domain":[-0.5,15.5],"nice":false,"zero":false},"axis":null}
    },
    "layer":[
     {"data":{"name":"skl"},"mark":{"type":"point","shape":"square","filled":true,"size":72,"opacity":1,"strokeWidth":0,"clip":true},"encoding":{"color":{"field":"v","type":"quantitative","scale":{"scheme":"viridis"},"legend":null}}},
     {"data":{"values":[{"i":3.77,"j":11.32}]},"mark":{"type":"point","shape":"M -1 -1 L 1 1 M -1 1 L 1 -1","filled":false,"stroke":"black","strokeWidth":2.6,"size":110,"opacity":1}},
     {"data":{"values":[{"i":7.13,"j":16.47,"t":"sD"}]},"mark":{"type":"text","fontSize":16.5,"align":"right","baseline":"alphabetic"},"encoding":{"text":{"field":"t"}}},
     {"data":{"values":[{"i":7.13,"j":16.1,"t":"KL"}]},"mark":{"type":"text","fontSize":11,"align":"left","baseline":"alphabetic"},"encoding":{"text":{"field":"t"}}}
    ]
   }
  ],"spacing":32.5,"bounds":"flush","resolve":{"scale":{"color":"independent"}}},
  {"hconcat":[
   {
    "width":127.5,"height":127.5,
    "encoding":{
     "x":{"field":"i","type":"quantitative","scale":{"domain":[-0.5,15.5],"nice":false,"zero":false},"axis":{"values":[-0.5,7.5,15.5],"labelExpr":"datum.value < 0 ? '-π/2' : (datum.value > 10 ? 'π/2' : '0')","title":null,"labelPadding":6,"labelFontSize":15.5}},
     "y":{"field":"j","type":"quantitative","scale":{"domain":[-0.5,15.5],"nice":false,"zero":false},"axis":{"values":[-0.5,7.5,15.5],"labelExpr":"datum.value < 0 ? '-π/2' : (datum.value > 10 ? 'π/2' : '0')","title":null,"labelPadding":5.5,"labelFontSize":15.5}}
    },
    "layer":[
     {"data":{"name":"lda"},"mark":{"type":"point","shape":"square","filled":true,"size":72,"opacity":1,"strokeWidth":0,"clip":true},"encoding":{"color":{"field":"v","type":"quantitative","scale":{"scheme":"viridis"},"legend":null}}},
     {"data":{"values":[{"i":7.5,"j":16.62,"t":"LDA Accuracy"}]},"mark":{"type":"text","fontSize":16.5,"align":"center","baseline":"alphabetic"},"encoding":{"text":{"field":"t"}}},
     {"data":{"values":[{"i":-6.98,"j":17.1,"t":"C"}]},"mark":{"type":"text","fontSize":20,"fontWeight":"bold","align":"left","baseline":"alphabetic"},"encoding":{"text":{"field":"t"}}},
     {"data":{"values":[{"i":-5.74,"j":6.71,"t":"θ"}]},"mark":{"type":"text","fontSize":15,"fontStyle":"italic","angle":270,"align":"center","baseline":"middle"},"encoding":{"text":{"field":"t"}}},
     {"data":{"values":[{"i":-5.24,"j":8.07,"t":"B"}]},"mark":{"type":"text","fontSize":10.5,"fontStyle":"italic","angle":270,"align":"center","baseline":"middle"},"encoding":{"text":{"field":"t"}}},
     {"data":{"values":[{"i":7.35,"j":-4.29,"t":"θ"}]},"mark":{"type":"text","fontSize":15,"fontStyle":"italic","align":"center","baseline":"middle"},"encoding":{"text":{"field":"t"}}},
     {"data":{"values":[{"i":8.24,"j":-4.86,"t":"A"}]},"mark":{"type":"text","fontSize":10.5,"fontStyle":"italic","align":"center","baseline":"middle"},"encoding":{"text":{"field":"t"}}}
    ]
   },
   {
    "width":127.5,"height":127.5,
    "encoding":{
     "x":{"field":"i","type":"quantitative","scale":{"domain":[-0.5,15.5],"nice":false,"zero":false},"axis":{"values":[-0.5,7.5,15.5],"labelExpr":"datum.value < 0 ? '-π/2' : (datum.value > 10 ? 'π/2' : '0')","title":null,"labelPadding":6,"labelFontSize":15.5}},
     "y":{"field":"j","type":"quantitative","scale":{"domain":[-0.5,15.5],"nice":false,"zero":false},"axis":null}
    },
    "layer":[
     {"data":{"name":"qda"},"mark":{"type":"point","shape":"square","filled":true,"size":72,"opacity":1,"strokeWidth":0,"clip":true},"encoding":{"color":{"field":"v","type":"quantitative","scale":{"scheme":"viridis"},"legend":null}}},
     {"data":{"values":[{"i":7.5,"j":16.62,"t":"QDA Accuracy"}]},"mark":{"type":"text","fontSize":16.5,"align":"center","baseline":"alphabetic"},"encoding":{"text":{"field":"t"}}},
     {"data":{"values":[{"i":7.35,"j":-4.29,"t":"θ"}]},"mark":{"type":"text","fontSize":15,"fontStyle":"italic","align":"center","baseline":"middle"},"encoding":{"text":{"field":"t"}}},
     {"data":{"values":[{"i":8.24,"j":-4.86,"t":"A"}]},"mark":{"type":"text","fontSize":10.5,"fontStyle":"italic","align":"center","baseline":"middle"},"encoding":{"text":{"field":"t"}}}
    ]
   }
  ],"spacing":32.5,"bounds":"flush","resolve":{"scale":{"color":"independent"}}}
 ],
 "spacing":4,"bounds":"full","resolve":{"scale":{"color":"independent"}}
}
],"spacing":6,"bounds":"full","resolve":{"scale":{"color":"independent"}}},
{
 "width":296,"height":296,
 "encoding":{
  "x":{"field":"x","type":"quantitative","scale":{"domain":[5.04,14.98],"nice":false,"zero":false},"axis":{"values":[6,14],"title":"Neuron 0","labelPadding":2.5,"titlePadding":-2}},
  "y":{"field":"y","type":"quantitative","scale":{"domain":[5.02,14.98],"nice":false,"zero":false},"axis":{"values":[6,14],"title":"Neuron 1","labelPadding":10,"titlePadding":-9}}
 },
 "layer":[
  {"data":{"values":[{"x":9.21,"y":10.78}]},"mark":{"type":"point","shape":"M 1 0 C 1 0.2463 0.5523 0.446 0 0.446 C -0.5523 0.446 -1 0.2463 -1 0 C -1 -0.2463 -0.5523 -0.446 0 -0.446 C 0.5523 -0.446 1 -0.2463 1 0 Z","size":22023,"angle":-1.5,"filled":true,"fill":"#1f77b4","fillOpacity":0.5,"opacity":1,"strokeWidth":0}},
  {"data":{"values":[{"x":10.78,"y":9.22}]},"mark":{"type":"point","shape":"M 1 0 C 1 0.2463 0.5523 0.446 0 0.446 C -0.5523 0.446 -1 0.2463 -1 0 C -1 -0.2463 -0.5523 -0.446 0 -0.446 C 0.5523 -0.446 1 -0.2463 1 0 Z","size":22023,"angle":91.5,"filled":true,"fill":"#ff7f0e","fillOpacity":0.5,"opacity":1,"strokeWidth":0}},
  {"data":{"values":[{"x":9.21,"y":10.78}]},"mark":{"type":"point","shape":"circle","size":85,"filled":true,"fill":"#1f77b4","opacity":1,"strokeWidth":0}},
  {"data":{"values":[{"x":10.78,"y":9.22}]},"mark":{"type":"point","shape":"circle","size":85,"filled":true,"fill":"#ff7f0e","opacity":1,"strokeWidth":0}},
  {"data":{"values":[{"x":8.99,"y":15.33,"t":"sD"}]},"mark":{"type":"text","fontSize":18.5,"align":"right","baseline":"alphabetic"},"encoding":{"text":{"field":"t"}}},
  {"data":{"values":[{"x":8.99,"y":15.23,"t":"KL"}]},"mark":{"type":"text","fontSize":12.5,"align":"left","baseline":"alphabetic"},"encoding":{"text":{"field":"t"}}},
  {"data":{"values":[{"x":9.64,"y":15.33,"t":"optimal"}]},"mark":{"type":"text","fontSize":18.5,"align":"left","baseline":"alphabetic"},"encoding":{"text":{"field":"t"}}},
  {"data":{"values":[{"x":3.955,"y":15.24,"t":"D"}]},"mark":{"type":"text","fontSize":20,"fontWeight":"bold","align":"left","baseline":"alphabetic"},"encoding":{"text":{"field":"t"}}}
 ]
}
],
"spacing":2.5,
"bounds":"full",
"resolve":{"scale":{"color":"independent"}}
}
